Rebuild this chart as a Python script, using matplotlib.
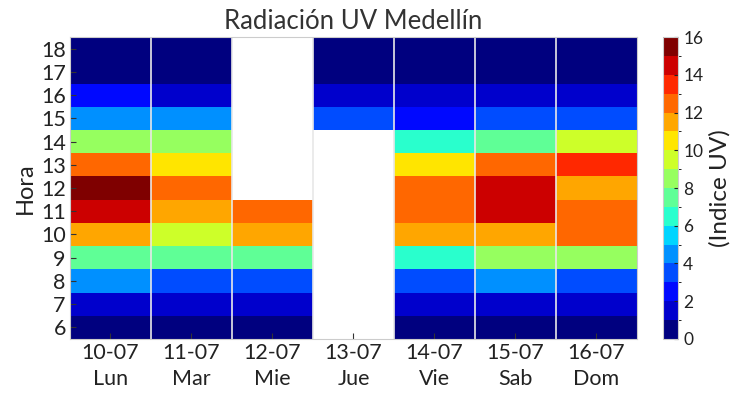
import numpy as np
import matplotlib.pyplot as plt
import matplotlib.colors as mcolors

horas = list(range(6, 19))
dias = ['10-07\nLun', '11-07\nMar', '12-07\nMie', '13-07\nJue', '14-07\nVie', '15-07\nSab', '16-07\nDom']
nan = np.nan

# indice UV por hora (6..18) para cada dia
lun = [0, 1, 4, 7, 11, 14, 15, 12, 8, 4, 2, 0, 0]
mar = [0, 1, 3, 7, 9, 11, 12, 10, 8, 4, 1, 0, 0]
mie = [0, 1, 3, 7, 11, 12, nan, nan, nan, nan, nan, nan, nan]
jue = [nan, nan, nan, nan, nan, nan, nan, nan, nan, 3, 1, 0, 0]
vie = [0, 1, 3, 6, 11, 12, 12, 10, 6, 2, 1, 0, 0]
sab = [0, 1, 4, 8, 11, 14, 14, 12, 7, 3, 1, 0, 0]
dom = [0, 1, 3, 8, 12, 12, 11, 13, 9, 3, 1, 0, 0]

plt.rcParams['font.family'] = ['Lato', 'DejaVu Sans']

datos = np.ma.masked_invalid(np.array([lun, mar, mie, jue, vie, sab, dom]).T)

cmap = plt.get_cmap('jet', 16)
norm = mcolors.BoundaryNorm(np.arange(0, 17), cmap.N)

fig = plt.figure(figsize=(7.43, 3.95), dpi=100)
ax = fig.add_axes([0.0942, 0.142, 0.763, 0.764])
cax = fig.add_axes([0.892, 0.142, 0.021, 0.764])

im = ax.imshow(datos, cmap=cmap, norm=norm, origin='lower', aspect='auto',
               extent=[-0.5, len(dias) - 0.5, horas[0] - 0.5, horas[-1] + 0.5],
               interpolation='nearest')
for x in np.arange(0.5, len(dias) - 0.5):
    ax.axvline(x, color='#e8e8e8', lw=1.2)

ax.set_xticks(range(len(dias)))
ax.set_xticklabels(dias, fontsize=15.5, color='#222222', linespacing=1.35)
ax.set_yticks(horas)
ax.set_yticklabels(horas, fontsize=15.5, color='#222222')
ax.tick_params(direction='in', length=4, color='#333333', pad=3)
ax.set_ylabel('Hora', fontsize=17, color='#222222')
ax.set_title('Radiación UV Medellín', fontsize=18.5, color='#333333')
for s in ax.spines.values():
    s.set_color('#cccccc')

cb = fig.colorbar(im, cax=cax, ticks=range(0, 17, 2))
cb.ax.tick_params(labelsize=12.5, direction='in', length=3, colors='#222222')
cb.set_label('(Indice UV)', fontsize=17.5, color='#222222')
cb.outline.set_edgecolor('#cccccc')

plt.savefig('out.png', dpi=100)
